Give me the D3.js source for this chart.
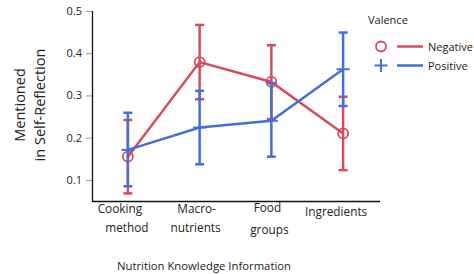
<!DOCTYPE html>
<html><head><meta charset="utf-8">
<script src="https://cdn.jsdelivr.net/npm/d3@7"></script>
<style>body{margin:0;background:#fff;} text{font-family:"Open Sans","Noto Sans",sans-serif;fill:#222;}</style>
</head><body><svg id="c" width="474" height="274"></svg>
<script>
const categories = ["Cooking method", "Macro-nutrients", "Food groups", "Ingredients"];
const categoryLines = [["Cooking","method"],["Macro-","nutrients"],["Food","groups"],["Ingredients"]];
const negMean  = [0.155, 0.379, 0.332, 0.210];
const negUpper = [0.242, 0.467, 0.419, 0.297];
const negLower = [0.068, 0.291, 0.244, 0.123];
const posMean  = [0.171, 0.224, 0.240, 0.362];
const posUpper = [0.259, 0.311, 0.329, 0.449];
const posLower = [0.085, 0.137, 0.155, 0.275];
const yTicks = [0.1, 0.2, 0.3, 0.4, 0.5];
const seriesNames = ["Negative", "Positive"];

const red = "#d84a5c", blue = "#4070dc";
const svg = d3.select("#c");
const x = d3.scalePoint().domain(categories).range([92, 379]).padding(0.5);
const y = d3.scaleLinear().domain([0.05, 0.5]).range([201, 11]);

// y axis
const ya = svg.append("g").attr("transform","translate(92,0)")
  .call(d3.axisLeft(y).tickValues(yTicks).tickSize(6).tickPadding(4).tickFormat(d3.format(".1f")));
ya.select(".domain").remove();
ya.selectAll(".tick line").attr("stroke","#999");
ya.selectAll(".tick text").style("font-size","11px").attr("fill","#222");
svg.append("line").attr("x1",92.5).attr("x2",92.5).attr("y1",y(0.5)).attr("y2",201.5).attr("stroke","#111").attr("stroke-width",1.3);
svg.append("line").attr("x1",92).attr("x2",380).attr("y1",201.5).attr("y2",201.5).attr("stroke","#111").attr("stroke-width",1.3);

// x labels (offset from point centres, as in the reference)
const lineDx = [[-8,-1],[-3,-4],[-4,-2],[-7]];
const lineY = [[213,232],[213,232],[212,234],[216]];
categories.forEach((c,i)=>{
  categoryLines[i].forEach((t,j)=>{
    svg.append("text").attr("x", x(c) + lineDx[i][j]).attr("y", lineY[i][j])
      .attr("text-anchor","middle").style("font-size","11.8px").text(t);
  });
});
svg.append("text").attr("x",204).attr("y",270).attr("text-anchor","middle").style("font-size","11.3px").text("Nutrition Knowledge Information");
const yl = svg.append("text").attr("transform","translate(25,105) rotate(-90)").attr("text-anchor","middle").style("font-size","14.5px");
yl.append("tspan").attr("x",0).attr("dy",0).text("Mentioned");
yl.append("tspan").attr("x",0).attr("dy",20).text("in Self-Reflection");

function drawSeries(mean, lo, hi, color, marker){
  const g = svg.append("g");
  const line = d3.line().x((d,i)=>x(categories[i])).y(d=>y(d));
  g.append("path").attr("d", line(mean)).attr("fill","none").attr("stroke",color).attr("stroke-width",2.5);
  categories.forEach((c,i)=>{
    const cx = x(c);
    g.append("line").attr("x1",cx).attr("x2",cx).attr("y1",y(lo[i])).attr("y2",y(hi[i])).attr("stroke",color).attr("stroke-width",2.5);
    [lo[i],hi[i]].forEach(v=>g.append("line").attr("x1",cx-4.5).attr("x2",cx+4.5).attr("y1",y(v)).attr("y2",y(v)).attr("stroke",color).attr("stroke-width",2.5));
    if(marker==="circle"){
      g.append("circle").attr("cx",cx).attr("cy",y(mean[i])).attr("r",5).attr("fill","none").attr("stroke",color).attr("stroke-width",1.8);
    } else {
      g.append("line").attr("x1",cx-6.5).attr("x2",cx+6.5).attr("y1",y(mean[i])).attr("y2",y(mean[i])).attr("stroke",color).attr("stroke-width",2);
    }
  });
}
drawSeries(negMean, negLower, negUpper, red, "circle");
drawSeries(posMean, posLower, posUpper, blue, "plus");

// legend
svg.append("text").attr("x",368).attr("y",24).style("font-size","11px").text("Valence");
const lg = [{name:seriesNames[0],color:red,m:"circle",y:46.5},{name:seriesNames[1],color:blue,m:"plus",y:65.5}];
lg.forEach(d=>{
  if(d.m==="circle") svg.append("circle").attr("cx",381).attr("cy",d.y).attr("r",5).attr("fill","none").attr("stroke",d.color).attr("stroke-width",1.8);
  else { svg.append("line").attr("x1",374.5).attr("x2",387.5).attr("y1",d.y).attr("y2",d.y).attr("stroke",d.color).attr("stroke-width",2);
         svg.append("line").attr("x1",381).attr("x2",381).attr("y1",d.y-6.5).attr("y2",d.y+6.5).attr("stroke",d.color).attr("stroke-width",2); }
  svg.append("line").attr("x1",397).attr("x2",423).attr("y1",d.y).attr("y2",d.y).attr("stroke",d.color).attr("stroke-width",2.5);
  svg.append("text").attr("x",428).attr("y",d.y+4).style("font-size","11px").text(d.name);
});
</script></body></html>
